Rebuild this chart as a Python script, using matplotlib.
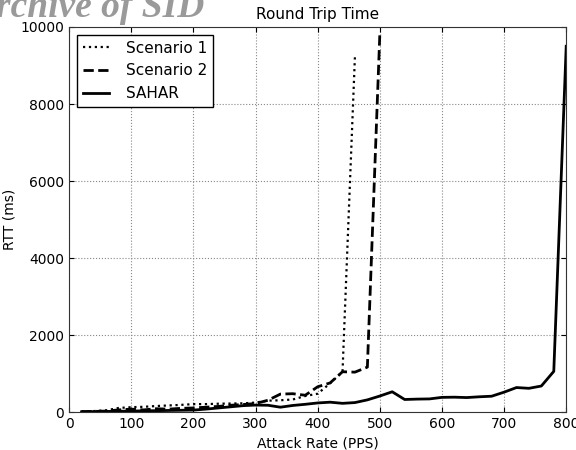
import matplotlib
matplotlib.use("Agg")
import matplotlib.pyplot as plt

# attack rate in packets per second
rate_s1 = [20, 40, 60, 80, 100, 120, 140, 160, 180, 200, 220, 240, 260, 280,
           300, 320, 340, 360, 380, 400, 420, 440, 460]
rtt_s1 = [20, 30, 50, 110, 130, 140, 160, 175, 190, 210, 210, 220, 225, 230,
          250, 300, 310, 330, 420, 480, 750, 1050, 9250]

rate_s2 = [20, 40, 60, 80, 100, 120, 140, 160, 180, 200, 220, 240, 260, 280,
           300, 320, 340, 360, 380, 400, 420, 440, 460, 480, 500]
rtt_s2 = [15, 20, 30, 60, 80, 60, 90, 80, 100, 110, 130, 150, 180, 200,
          225, 310, 470, 480, 440, 660, 760, 1050, 1040, 1170, 9800]

rate_sahar = [20, 40, 60, 80, 100, 120, 140, 160, 180, 200, 220, 240, 260, 280,
              300, 320, 340, 360, 380, 400, 420, 440, 460, 480, 500, 520, 540,
              560, 580, 600, 620, 640, 660, 680, 700, 720, 740, 760, 780, 800]
rtt_sahar = [10, 15, 20, 25, 30, 35, 40, 45, 50, 55, 80, 110, 140, 170,
             185, 180, 130, 175, 205, 240, 260, 230, 250, 320, 420, 530, 330,
             340, 345, 385, 390, 380, 400, 415, 520, 640, 620, 680, 1060, 9500]

fig = plt.figure(figsize=(5.76, 4.5), dpi=100)
ax = fig.add_axes([0.12, 0.084, 0.863, 0.856])

ax.plot(rate_s1, rtt_s1, color="black", linestyle=":", linewidth=1.6, label="Scenario 1")
ax.plot(rate_s2, rtt_s2, color="black", linestyle="--", linewidth=2, label="Scenario 2")
ax.plot(rate_sahar, rtt_sahar, color="black", linestyle="-", linewidth=2, label="SAHAR")

ax.set_xlim(0, 800)
ax.set_ylim(0, 10000)
ax.set_xticks(range(0, 801, 100))
ax.set_yticks(range(0, 10001, 2000))
ax.grid(True, linestyle=":", color="#888888", linewidth=0.8)
ax.tick_params(direction="in", top=True, right=True, labelsize=10)
for sp in ax.spines.values():
    sp.set_color("#333333")

ax.set_title("Round Trip Time", fontsize=11)
ax.set_xlabel("Attack Rate (PPS)", fontsize=10)
ax.set_ylabel("RTT (ms)", fontsize=10)
ax.yaxis.set_label_coords(-0.105, 0.5)

leg = ax.legend(loc="upper left", fontsize=11, handlelength=1.7, handletextpad=1.1,
                fancybox=False, framealpha=1, borderaxespad=0.5)
leg.get_frame().set_edgecolor("black")

# faded archive stamp in the top corner
fig.text(205 / 576, 1 - 17 / 450, "Archive of SID", ha="right", va="baseline",
         fontsize=27, fontstyle="italic", fontweight="bold",
         family="Liberation Serif", color="#9a9a9a")

fig.savefig("out.png", dpi=100)
